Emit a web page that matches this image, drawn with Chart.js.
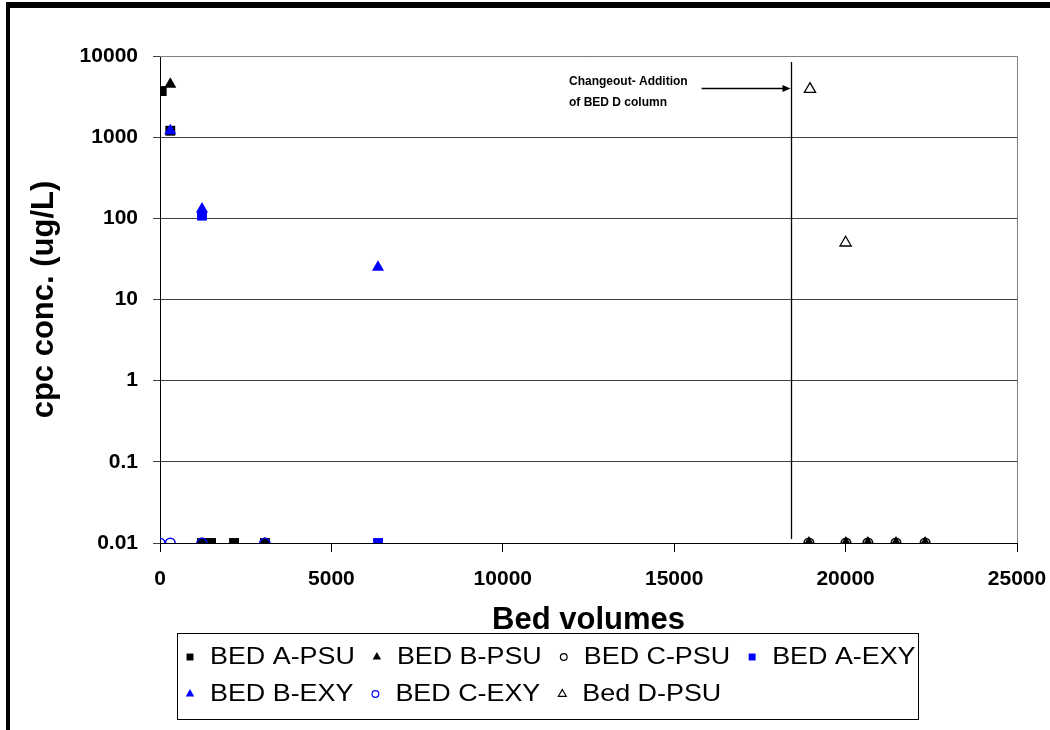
<!DOCTYPE html>
<html>
<head>
<meta charset="utf-8">
<script src="https://cdn.jsdelivr.net/npm/chart.js@4.4.1/dist/chart.umd.min.js"></script>
<style>
  html, body { margin: 0; padding: 0; background: #fff; overflow: hidden; }
  #wrap { position: relative; width: 1050px; height: 730px; }
  #frame { position: absolute; left: 6px; top: 2px; width: 2000px; height: 2000px;
           border-left: 4px solid #000; border-top: 6px solid #000; }
  #c { position: absolute; left: 0; top: 0; }
</style>
</head>
<body>
<div id="wrap">
  <div id="frame"></div>
  <canvas id="c" width="1050" height="730"></canvas>
</div>
<script>
// 数据：床体积 (x) 与 cpc 浓度 (y, ug/L)
const bedAPsuX = [50, 300, 1225, 1490, 2160, 3060];
const bedAPsuY = [3700, 1200, 0.01, 0.01, 0.01, 0.01];

const bedBPsuX = [300, 18930, 20010, 20650, 21470, 22320];
const bedBPsuY = [4500, 0.01, 0.01, 0.01, 0.01, 0.01];

const bedCPsuX = [1225, 3060, 18930, 20010, 20650, 21470, 22320];
const bedCPsuY = [0.01, 0.01, 0.01, 0.01, 0.01, 0.01, 0.01];

const bedAExyX = [1225, 6360];
const bedAExyY = [108, 0.01];

const bedBExyX = [300, 1225, 6360];
const bedBExyY = [1200, 130, 25];

const bedCExyX = [0, 300, 1225, 3060];
const bedCExyY = [0.01, 0.01, 0.01, 0.01];

const bedDPsuX = [18960, 20000];
const bedDPsuY = [3900, 50];

const seriesLabels = ['BED A-PSU', 'BED B-PSU', 'BED C-PSU', 'BED A-EXY', 'BED B-EXY', 'BED C-EXY', 'Bed D-PSU'];

const xTicks = [0, 5000, 10000, 15000, 20000, 25000];
const yTicks = [0.01, 0.1, 1, 10, 100, 1000, 10000];
const yTickLabels = ['0.01', '0.1', '1', '10', '100', '1000', '10000'];

// 注释：换柱位置
const changeoutX = 18400;
const arrowFromX = 15800;
const arrowY = 4000;
const noteLines = ['Changeout- Addition', 'of BED D column'];

function toPoints(xs, ys) {
  return xs.map((x, i) => ({ x: x, y: ys[i] }));
}

const BLUE = '#0000ff';
const BLACK = '#000000';

const styles = [
  { pointStyle: 'rect', pointRadius: 7, bg: BLACK, border: BLACK, bw: 0 },
  { pointStyle: 'triangle', pointRadius: 7, bg: BLACK, border: BLACK, bw: 0 },
  { pointStyle: 'circle', pointRadius: 4.8, bg: 'rgba(0,0,0,0)', border: BLACK, bw: 1.5 },
  { pointStyle: 'rect', pointRadius: 7, bg: BLUE, border: BLUE, bw: 0 },
  { pointStyle: 'triangle', pointRadius: 7, bg: BLUE, border: BLUE, bw: 0 },
  { pointStyle: 'circle', pointRadius: 4.8, bg: 'rgba(0,0,0,0)', border: BLUE, bw: 1.5 },
  { pointStyle: 'triangle', pointRadius: 6.5, bg: 'rgba(0,0,0,0)', border: BLACK, bw: 1.3 }
];

const seriesData = [
  toPoints(bedAPsuX, bedAPsuY),
  toPoints(bedBPsuX, bedBPsuY),
  toPoints(bedCPsuX, bedCPsuY),
  toPoints(bedAExyX, bedAExyY),
  toPoints(bedBExyX, bedBExyY),
  toPoints(bedCExyX, bedCExyY),
  toPoints(bedDPsuX, bedDPsuY)
];

const datasets = seriesData.map((data, i) => ({
  label: seriesLabels[i],
  data: data,
  showLine: false,
  pointStyle: styles[i].pointStyle,
  pointRadius: styles[i].pointRadius,
  pointBackgroundColor: styles[i].bg,
  pointBorderColor: styles[i].border,
  pointBorderWidth: styles[i].bw,
  // 后面的系列画在上面（与 Excel 一致）
  order: seriesLabels.length - i
}));

// 绘图区上边框和右边框
const plotFrame = {
  id: 'plotFrame',
  beforeDatasetsDraw(chart) {
    const { ctx, chartArea: a } = chart;
    ctx.save();
    ctx.strokeStyle = '#808080';
    ctx.lineWidth = 1;
    ctx.beginPath();
    ctx.moveTo(a.left, a.top + 0.5);
    ctx.lineTo(a.right + 0.5, a.top + 0.5);
    ctx.lineTo(a.right + 0.5, a.bottom);
    ctx.stroke();
    ctx.restore();
  }
};

// 换柱竖线、箭头和说明文字
const changeoutNote = {
  id: 'changeoutNote',
  afterDatasetsDraw(chart) {
    const { ctx, chartArea: a } = chart;
    const xs = chart.scales.x, ys = chart.scales.y;
    const lx = Math.round(xs.getPixelForValue(changeoutX)) + 0.5;
    const ay = Math.round(ys.getPixelForValue(arrowY)) + 0.5;
    const ax = xs.getPixelForValue(arrowFromX);
    ctx.save();
    ctx.strokeStyle = BLACK;
    ctx.fillStyle = BLACK;
    ctx.lineWidth = 1.3;
    ctx.beginPath();
    ctx.moveTo(lx, a.top + 6);
    ctx.lineTo(lx, a.bottom - 4);
    ctx.stroke();

    ctx.lineWidth = 1.3;
    ctx.beginPath();
    ctx.moveTo(ax, ay);
    ctx.lineTo(lx - 7, ay);
    ctx.stroke();
    ctx.beginPath();
    ctx.moveTo(lx - 1, ay);
    ctx.lineTo(lx - 9, ay - 3.5);
    ctx.lineTo(lx - 9, ay + 3.5);
    ctx.closePath();
    ctx.fill();

    ctx.font = 'bold 12px "Liberation Sans", Arial, sans-serif';
    ctx.textBaseline = 'alphabetic';
    ctx.textAlign = 'left';
    const w = Math.max(...noteLines.map(t => ctx.measureText(t).width));
    const tx = ax - 14 - w;
    ctx.fillText(noteLines[0], tx, ay - 4);
    ctx.fillText(noteLines[1], tx, ay + 17);
    ctx.restore();
  }
};

// 带边框的图例（两行）
const boxLegend = {
  id: 'boxLegend',
  afterDraw(chart) {
    const { ctx } = chart;
    const box = { left: 177, top: 633, right: 918, bottom: 719 };
    const rows = [[0, 1, 2, 3], [4, 5, 6]];
    const baselines = [664, 701];
    const stretch = 1.12;
    ctx.save();
    ctx.strokeStyle = BLACK;
    ctx.lineWidth = 1;
    ctx.strokeRect(box.left + 0.5, box.top + 0.5, box.right - box.left, box.bottom - box.top);
    ctx.font = '24px "Liberation Sans", Arial, sans-serif';
    ctx.textBaseline = 'alphabetic';
    rows.forEach((row, r) => {
      let x = box.left + 3;
      const by = baselines[r];
      row.forEach(i => {
        const s = styles[i];
        ctx.fillStyle = s.bg;
        ctx.strokeStyle = s.border;
        ctx.lineWidth = s.bw ? 1.2 : 0;
        Chart.helpers.drawPoint(ctx, {
          pointStyle: s.pointStyle,
          radius: s.pointRadius * 0.7,
          borderWidth: s.bw ? 1.2 : 0,
          rotation: 0
        }, x + 10, by - 7);
        ctx.fillStyle = BLACK;
        const label = seriesLabels[i];
        const tw = ctx.measureText(label).width * stretch;
        ctx.save();
        ctx.translate(x + 30, by);
        ctx.scale(stretch, 1);
        ctx.fillText(label, 0, 0);
        ctx.restore();
        x += 30 + tw + 12;
      });
    });
    ctx.restore();
  }
};

Chart.defaults.font.family = '"Liberation Sans", Arial, sans-serif';
Chart.defaults.color = BLACK;

new Chart(document.getElementById('c'), {
  type: 'scatter',
  data: { datasets: datasets },
  options: {
    responsive: false,
    animation: false,
    events: [],
    layout: { padding: { left: 0, right: 33, top: 56, bottom: 87 } },
    plugins: {
      legend: { display: false },
      tooltip: { enabled: false }
    },
    scales: {
      x: {
        type: 'linear',
        min: 0,
        max: 25000,
        afterBuildTicks: (scale) => { scale.ticks = xTicks.map(v => ({ value: v })); },
        afterFit: (scale) => {
          scale.height = 100;
          scale.paddingLeft = 0;
          scale.paddingRight = 0;
        },
        ticks: {
          font: { size: 21, weight: 'bold' },
          padding: 15,
          maxRotation: 0,
          callback: (v) => String(v)
        },
        grid: { drawOnChartArea: false, tickLength: 9, color: BLACK, tickColor: BLACK },
        border: { color: BLACK, width: 1 },
        title: {
          display: true,
          text: 'Bed volumes',
          font: { size: 31, weight: 'bold', lineHeight: 1.2 },
          padding: { top: 0, bottom: 4 }
        }
      },
      y: {
        type: 'logarithmic',
        min: 0.01,
        max: 10000,
        afterBuildTicks: (scale) => { scale.ticks = yTicks.map(v => ({ value: v })); },
        afterFit: (scale) => {
          scale.width = 160;
          scale.paddingTop = 0;
          scale.paddingBottom = 0;
        },
        ticks: {
          font: { size: 21, weight: 'bold' },
          padding: 15,
          callback: (v) => yTickLabels[yTicks.indexOf(v)] ?? ''
        },
        grid: { color: '#404040', tickLength: 7, tickColor: '#404040' },
        border: { color: BLACK, width: 1 },
        title: {
          display: true,
          text: 'cpc conc. (ug/L)',
          font: { size: 31, weight: 'bold', lineHeight: 1.2 },
          padding: { top: 26, bottom: 0 }
        }
      }
    }
  },
  plugins: [plotFrame, changeoutNote, boxLegend]
});
</script>
</body>
</html>
